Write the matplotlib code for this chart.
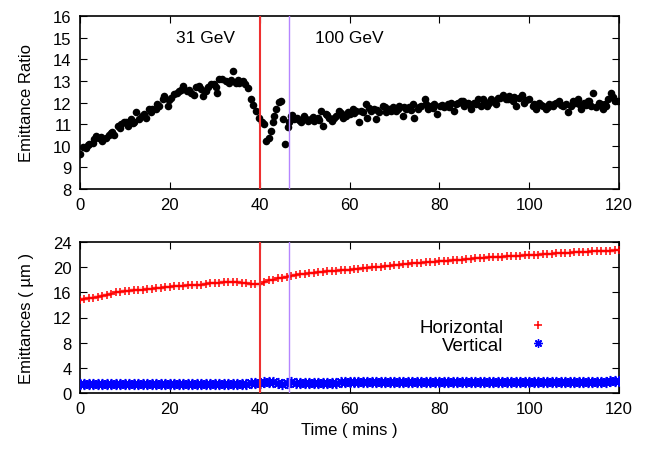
import matplotlib
matplotlib.use("Agg")
import matplotlib.pyplot as plt
from matplotlib.lines import Line2D

plt.rcParams['font.family'] = ['Liberation Sans', 'DejaVu Sans']
plt.rcParams['font.size'] = 12

# ---- top panel: emittance ratio ----
ratio_t = [0.0, 0.6, 1.3, 2.0, 2.8, 3.5, 4.3, 5.0, 5.8, 6.5, 6.9, 7.6, 8.4, 9.1, 9.8,
           10.6, 11.3, 12.1, 12.4, 13.2, 13.9, 14.7, 15.4, 16.1, 16.9, 17.6, 18.4, 18.7,
           19.5, 20.2, 21.0, 21.7, 22.5, 23.0, 23.9, 24.7, 25.4, 25.8, 26.5, 27.3, 28.0,
           29.1, 29.9, 30.6, 31.0, 31.7, 32.5, 33.2, 34.0, 34.7, 35.5, 36.2, 36.7, 37.3,
           38.0, 38.6, 39.2, 39.9, 40.5, 41.0, 41.5, 42.1, 42.5, 42.9, 43.2, 43.6, 44.2,
           44.7, 45.1, 45.7, 46.2, 46.6, 47.0, 47.7, 48.4, 49.2, 49.9, 50.7, 51.4, 52.2,
           52.9, 53.6, 54.0, 54.8, 55.5, 56.2, 57.0, 57.7, 58.5, 59.2,
           60.0, 60.7, 61.4, 62.2, 62.9, 63.7, 64.0, 64.8, 65.5, 65.9, 66.6, 67.4, 68.1,
           68.9, 69.6, 70.3, 71.1, 71.8, 72.6, 73.3, 74.1, 74.4, 75.2, 75.9, 76.7, 77.4,
           78.1, 78.9, 79.5, 80.2, 81.1, 81.9, 82.6, 83.3, 84.1, 84.8, 85.6, 86.3, 87.0,
           87.8, 88.5, 89.3, 89.7,
           90.0, 90.7, 91.5, 92.6, 93.4, 94.1, 94.8, 95.6, 96.3, 97.1, 97.8, 98.4, 98.9,
           100.0, 100.8, 101.5, 102.3, 103.0, 103.7, 104.5, 105.2, 106.0, 106.7, 107.5,
           108.6, 109.3, 110.1, 110.8, 111.5, 112.3, 113.0, 113.8, 114.3, 114.9, 115.6,
           116.4, 117.1, 117.5, 118.2, 119.0, 119.7,
           1.7, 3.1, 4.7, 7.2, 8.8, 10.2, 11.7, 14.3, 15.8, 17.2, 19.9, 22.1, 24.3, 26.9,
           28.5, 30.2, 33.6, 35.1, 47.3, 48.8, 50.3, 51.8, 53.2, 55.1, 56.6, 58.1, 59.6,
           61.0, 62.6, 64.4, 66.2, 67.8, 69.2, 70.7, 72.2, 73.7, 75.5, 77.0, 78.5, 80.6,
           82.2, 83.7, 85.2, 86.7, 88.1, 91.1, 92.0, 93.0, 95.2, 96.7, 99.4, 101.1, 102.7,
           104.1, 105.6, 107.1, 108.2, 109.7, 111.2, 112.7, 113.4, 116.0, 116.8, 118.6]
ratio_v = [9.62, 9.92, 9.88, 10.08, 10.12, 10.46, 10.38, 10.23, 10.34, 10.50, 10.60, 10.50,
           10.92, 11.00, 11.08, 10.92, 11.23, 11.10, 11.57, 11.23, 11.38, 11.30, 11.70,
           11.72, 11.70, 11.85, 12.18, 12.30, 11.85, 12.23, 12.38, 12.46, 12.60, 12.74,
           12.54, 12.46, 12.34, 12.70, 12.77, 12.30, 12.54, 12.85, 12.85, 12.46, 13.08,
           13.08, 13.00, 12.92, 13.46, 12.89, 12.89, 13.00, 12.85, 12.65, 12.15, 11.88,
           11.62, 11.30, 11.10, 11.00, 10.23, 10.38, 10.69, 11.08, 11.38, 11.69, 12.03,
           12.08, 11.23, 10.08, 10.85, 11.08, 11.38, 11.23, 11.30, 11.08, 11.38, 11.15,
           11.26, 11.15, 11.30, 11.62, 10.92, 11.46, 11.30, 11.15, 11.38, 11.62, 11.30,
           11.38,
           11.46, 11.69, 11.62, 11.10, 11.54, 11.92, 11.30, 11.62, 11.72, 11.23, 11.54,
           11.85, 11.54, 11.69, 11.77, 11.62, 11.85, 11.38, 11.69, 11.77, 11.92, 11.30,
           11.69, 11.85, 12.15, 11.69, 11.85, 11.92, 11.46, 11.85, 11.77, 11.92, 12.00,
           11.62, 12.00, 12.08, 11.85, 12.00, 11.69, 12.00, 12.15, 11.85, 12.18,
           12.08, 11.85, 12.15, 11.92, 12.23, 12.34, 12.15, 12.30, 12.08, 11.85, 12.23,
           12.34, 12.00, 12.15, 11.85, 11.69, 12.00, 11.85, 11.69, 11.92, 11.85, 12.00,
           12.08, 11.85, 11.54, 11.85, 12.00, 12.15, 11.69, 12.00, 12.08, 11.85, 12.43,
           11.77, 12.00, 11.69, 11.85, 12.15, 12.46, 12.08, 12.08,
           10.02, 10.30, 10.40, 10.62, 10.80, 11.12, 11.05, 11.48, 11.55, 11.95, 12.10,
           12.52, 12.60, 12.62, 12.70, 12.72, 13.02, 13.05, 11.40, 11.18, 11.22, 11.32,
           11.20, 11.42, 11.28, 11.50, 11.58, 11.52, 11.60, 11.75, 11.66, 11.80, 11.60,
           11.72, 11.80, 11.65, 11.78, 11.95, 11.75, 11.90, 11.80, 11.95, 12.05, 11.92,
           11.95, 12.00, 12.05, 12.20, 12.15, 12.25, 12.10, 11.95, 11.90, 11.78, 11.95,
           11.90, 11.95, 12.05, 11.92, 11.90, 12.05, 11.95, 11.92, 12.25]

# ---- bottom panel: emittances ----
emit_t = list(range(0, 121))
horiz = [14.85, 14.95, 15.05, 15.15, 15.30, 15.45, 15.60, 15.80, 16.00, 16.10,
         16.20, 16.25, 16.35, 16.40, 16.45, 16.50, 16.60, 16.65, 16.70, 16.80,
         16.90, 16.95, 17.00, 17.05, 17.10, 17.10, 17.15, 17.20, 17.35, 17.45,
         17.50, 17.55, 17.60, 17.70, 17.65, 17.60, 17.55, 17.45, 17.30, 17.25,
         17.30, 17.60, 17.90, 18.00, 18.20, 18.35, 18.50, 18.65, 18.75, 18.85,
         18.95, 19.00, 19.10, 19.20, 19.25, 19.35, 19.40, 19.45, 19.50, 19.55,
         19.55, 19.65, 19.70, 19.80, 19.90, 19.95, 20.05, 20.10, 20.15, 20.25,
         20.30, 20.35, 20.45, 20.50, 20.60, 20.65, 20.70, 20.75, 20.80, 20.90,
         20.95, 21.00, 21.00, 21.10, 21.15, 21.20, 21.25, 21.30, 21.40, 21.45,
         21.50, 21.55, 21.60, 21.60, 21.65, 21.70, 21.75, 21.80, 21.85, 21.90,
         21.90, 21.95, 22.00, 22.05, 22.10, 22.15, 22.20, 22.20, 22.25, 22.30,
         22.35, 22.40, 22.45, 22.45, 22.50, 22.55, 22.55, 22.60, 22.60, 22.65, 22.70]
vert = [1.45, 1.45, 1.45, 1.45, 1.45, 1.45, 1.45, 1.45, 1.45, 1.45,
        1.45, 1.45, 1.45, 1.45, 1.45, 1.45, 1.45, 1.45, 1.45, 1.45,
        1.42, 1.42, 1.42, 1.42, 1.42, 1.42, 1.42, 1.42, 1.42, 1.42,
        1.42, 1.42, 1.42, 1.45, 1.45, 1.45, 1.48, 1.50, 1.52, 1.55,
        1.62, 1.75, 1.78, 1.72, 1.55, 1.50, 1.62, 1.68, 1.66, 1.66,
        1.66, 1.66, 1.66, 1.66, 1.66, 1.66, 1.66, 1.66, 1.68, 1.68,
        1.68, 1.68, 1.68, 1.68, 1.68, 1.68, 1.70, 1.70, 1.70, 1.70,
        1.70, 1.70, 1.70, 1.70, 1.70, 1.72, 1.72, 1.72, 1.72, 1.72,
        1.72, 1.72, 1.72, 1.72, 1.72, 1.72, 1.74, 1.74, 1.74, 1.74,
        1.74, 1.74, 1.74, 1.74, 1.74, 1.76, 1.76, 1.76, 1.76, 1.76,
        1.76, 1.76, 1.76, 1.78, 1.78, 1.78, 1.78, 1.78, 1.78, 1.80,
        1.80, 1.80, 1.80, 1.80, 1.82, 1.82, 1.82, 1.82, 1.84, 1.84, 1.84]

energy_change_t = 40.0
ramp_end_t = 46.5
labels = [("31 GeV", 28.0), ("100 GeV", 60.0)]

fig = plt.figure(figsize=(6.48, 4.52), dpi=100)
ax1 = fig.add_axes([80/648, 1-190/452, 539/648, 173/452])
ax2 = fig.add_axes([80/648, 1-394/452, 539/648, 151/452])

ax1.scatter(ratio_t, ratio_v, s=30, color='black', zorder=3, linewidths=0)
for txt, tx in labels:
    ax1.text(tx, 15.0, txt, ha='center', va='center', fontsize=12.5)
ax1.set_xlim(0, 120)
ax1.set_ylim(8, 16)
ax1.set_yticks(range(8, 17))
ax1.set_ylabel("Emittance Ratio")

ax2.plot(emit_t, horiz, color='#ff9090', lw=3, alpha=0.6, zorder=2)
ax2.plot(emit_t, horiz, color='red', lw=0.8, marker='+', markersize=6,
         markeredgewidth=1.1, zorder=3, label='Horizontal', linestyle='-')
ax2.plot(emit_t, vert, color='blue', lw=0, marker=(8, 2, 0), markersize=8,
         markeredgewidth=1.1, zorder=3, label='Vertical')
ax2.set_xlim(0, 120)
ax2.set_ylim(0, 24)
ax2.set_yticks(range(0, 25, 4))
ax2.set_ylabel("Emittances ( \u00b5m )")
ax2.set_xlabel("Time ( mins )")

h, l = ax2.get_legend_handles_labels()
hh = [Line2D([], [], color='red', lw=0, marker='+', markersize=6, markeredgewidth=1.1),
      Line2D([], [], color='blue', lw=0, marker=(8, 2, 0), markersize=6, markeredgewidth=1.0)]
ax2.legend(hh, l, markerfirst=False, frameon=False, loc='center right',
           bbox_to_anchor=(0.885, 0.377), handlelength=2.0, handletextpad=0.85,
           labelspacing=0.05, fontsize=13.5, borderpad=0, borderaxespad=0)

for ax in (ax1, ax2):
    ax.axvline(energy_change_t, color='#ee3030', lw=1.5, zorder=4)
    ax.axvline(ramp_end_t, color='#b585ff', lw=1.0, zorder=4)
    ax.set_xticks(range(0, 121, 20))
    ax.tick_params(direction='in', top=True, right=True, length=5, width=0.8,
                   labelsize=12, pad=6)
    for sp in ax.spines.values():
        sp.set_linewidth(1.2)
    ax.yaxis.set_label_coords(-0.085, 0.5)

ax2.xaxis.labelpad = 4

fig.savefig("out.png", dpi=100)
